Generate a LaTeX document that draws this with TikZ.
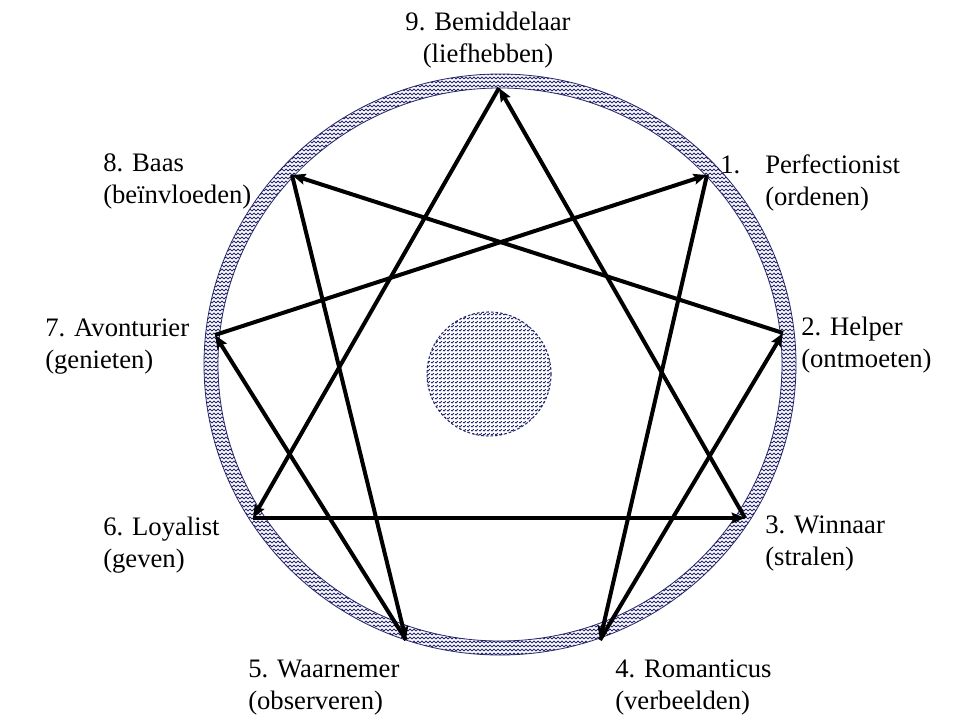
\documentclass[tikz,border=0pt]{standalone}
\usepackage{fontspec}
\setmainfont{Liberation Serif}
\usetikzlibrary{arrows.meta,patterns}

\definecolor{ringblue}{RGB}{40,40,110}

\pgfdeclarepatternformonly{zigzag}{\pgfpoint{-0.1pt}{-0.1pt}}{\pgfpoint{3.1pt}{3.1pt}}{\pgfpoint{3pt}{3pt}}{%
  \pgfsetlinewidth{0.6pt}
  \pgfpathmoveto{\pgfpoint{0pt}{0.7pt}}
  \pgfpathlineto{\pgfpoint{1.5pt}{2.3pt}}
  \pgfpathlineto{\pgfpoint{3pt}{0.7pt}}
  \pgfusepath{stroke}}

\begin{document}
\begin{tikzpicture}[x=0.75pt,y=-0.75pt,>={Stealth[length=10pt,width=8pt,inset=1.5pt]},
  typetext/.style={anchor=base west,inner sep=0pt,font=\fontsize{20}{24}\selectfont},
  ring/.style={draw=ringblue,line width=0.6pt,pattern=zigzag,pattern color=ringblue},
  arrowline/.style={->,draw=black,line width=3pt}]

\useasboundingbox (0,0) rectangle (960,720);

\path[ring,even odd rule] (500,364.5) ellipse [x radius=296,y radius=290.5]
                          (500,364.5) ellipse [x radius=282,y radius=276.5];
\path[ring,line width=0.8pt,dash pattern=on 2pt off 1.5pt] (489,374) circle [radius=62];

\coordinate (bemiddelaar)   at (499,88);
\coordinate (perfectionist) at (707,175);
\coordinate (helper)        at (783,333);
\coordinate (winnaar)       at (745,518);
\coordinate (romanticus)    at (600,640);
\coordinate (waarnemer)     at (406,640);
\coordinate (loyalist)      at (253,518);
\coordinate (avonturier)    at (215,335);
\coordinate (baas)          at (292,175);

  \path[every edge/.style={arrowline}]
            (perfectionist) edge (romanticus)
            (romanticus)    edge (helper)
            (helper)        edge (baas)
            (baas)          edge (waarnemer)
            (waarnemer)     edge (avonturier)
            (avonturier)    edge (perfectionist)
            (bemiddelaar)   edge (loyalist)
            (loyalist)      edge (winnaar)
            (winnaar)       edge (bemiddelaar);

\node[typetext,anchor=base] (txt9) at (488,31)
  {\begin{tabular}[t]{@{}c@{}}9. Bemiddelaar\\(liefhebben)\end{tabular}};
\node[typetext] (txt1) at (720,174)
  {\begin{tabular}[t]{@{}l@{}l@{}}\makebox[33.75pt][l]{1.}&Perfectionist\\&(ordenen)\end{tabular}};
\node[typetext] (txt2) at (801,335)
  {\begin{tabular}[t]{@{}l@{}}2. Helper\\(ontmoeten)\end{tabular}};
\node[typetext] (txt3) at (765,533)
  {\begin{tabular}[t]{@{}l@{}}3. Winnaar\\(stralen)\end{tabular}};
\node[typetext] (txt4) at (615,677)
  {\begin{tabular}[t]{@{}l@{}}4. Romanticus\\(verbeelden)\end{tabular}};
\node[typetext] (txt5) at (248,677)
  {\begin{tabular}[t]{@{}l@{}}5. Waarnemer\\(observeren)\end{tabular}};
\node[typetext] (txt6) at (103,535)
  {\begin{tabular}[t]{@{}l@{}}6. Loyalist\\(geven)\end{tabular}};
\node[typetext] (txt7) at (45,336)
  {\begin{tabular}[t]{@{}l@{}}7. Avonturier\\(genieten)\end{tabular}};
\node[typetext] (txt8) at (103,172)
  {\begin{tabular}[t]{@{}l@{}}8. Baas\\(beïnvloeden)\end{tabular}};

\end{tikzpicture}
\end{document}
